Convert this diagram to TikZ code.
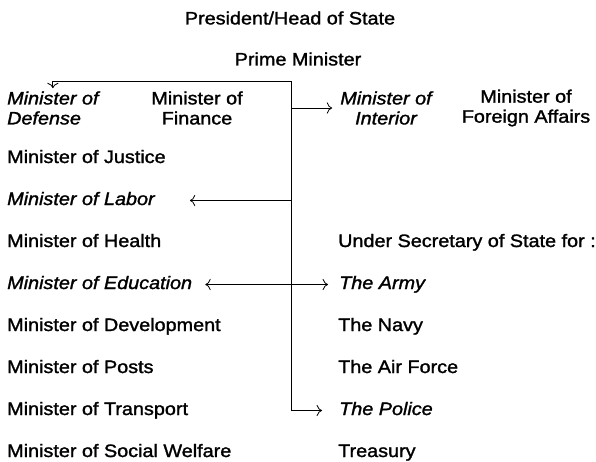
\documentclass[tikz,border=0pt]{standalone}
\usepackage{fontspec}
\setmainfont{Liberation Sans}[FakeStretch=1.1, FakeBold=1.5]
\usetikzlibrary{arrows.meta,positioning,calc}

\begin{document}
\begin{tikzpicture}[x=1pt, y=-1pt,
    every node/.style={font=\fontsize{18}{20}\selectfont, inner sep=3pt},
    post/.style={anchor=west, text height=13pt, text depth=4pt},
    ital/.style={font=\fontsize{18}{20}\selectfont\itshape},
    pair/.style={align=center},
    tip/.style={To[scale=1.6]},
    link/.style={-{To[scale=1.6]}, line width=0.8pt}]

  \useasboundingbox (0,0) rectangle (596,461);

  % head of the government
  \node (president) at (290,18) {President/Head of State};
  \node (pm) at (298,59) {Prime Minister};

  % top row
  \node[ital, pair, align=left, anchor=west] (defense) at (4,108) {Minister of\\Defense};
  \node[pair] (finance) at (197,108) {Minister of\\Finance};
  \node[ital, pair] (interior) at (386,108) {Minister of\\Interior};
  \node[pair] (foreign) at (526,108) {Minister of\\Foreign Affairs};

  % left column
  \node[post] (justice) at (4,158.5) {Minister of Justice};
  \node[post, ital] (labor) at (4,200.5) {Minister of Labor};
  \node[post] (health) at (4,242.5) {Minister of Health};
  \node[post, ital] (education) at (4,284.5) {Minister of Education};
  \node[post] (development) at (4,326.5) {Minister of Development};
  \node[post] (posts) at (4,368.5) {Minister of Posts};
  \node[post] (transport) at (4,410.5) {Minister of Transport};
  \node[post] (welfare) at (4,452.5) {Minister of Social Welfare};

  % right column
  \node[post] (usec) at (335,242.5) {Under Secretary of State for :};
  \node[post, ital] (army) at (336,284.5) {The Army};
  \node[post] (navy) at (335,326.5) {The Navy};
  \node[post] (airforce) at (335,368.5) {The Air Force};
  \node[post, ital] (police) at (336,410.5) {The Police};
  \node[post] (treasury) at (335,452.5) {Treasury};

  % lines of command
  \coordinate (trunk) at (291,81);
  \draw[link] (trunk) -| (defense.north);
  \draw[link] (trunk |- interior.west) -- ([xshift=-5pt]interior.west);
  \draw[link] (trunk |- labor.east) -- ([xshift=32pt]labor.east);
  \draw[link, {To[scale=1.6]}-{To[scale=1.6]}]
    ([xshift=10pt]education.east) -- ([xshift=-8pt]army.west);
  \draw[link] (trunk) |- ([xshift=-14pt]police.west);
\end{tikzpicture}
\end{document}
